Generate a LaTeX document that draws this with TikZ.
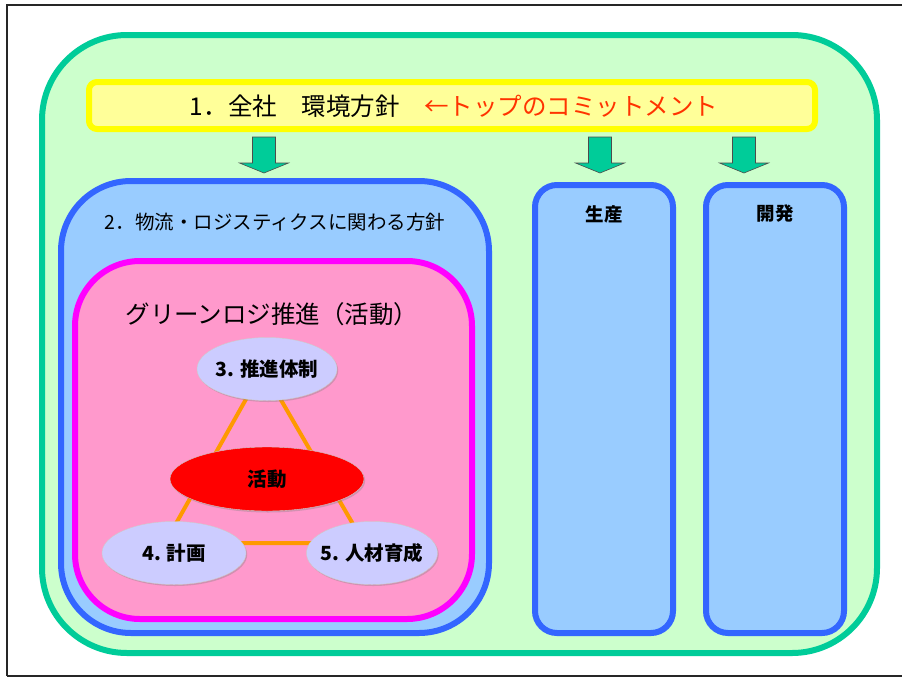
\documentclass[tikz,border=0pt]{standalone}
\usepackage{fontspec}
\setmainfont{Noto Sans CJK JP}
\usetikzlibrary{shapes.geometric,shadows}

\definecolor{ringgreen}{HTML}{00CC99}
\definecolor{palegreen}{HTML}{CCFFCC}
\definecolor{boxyellow}{HTML}{FFFF00}
\definecolor{paleyellow}{HTML}{FFFF99}
\definecolor{boxblue}{HTML}{3366FF}
\definecolor{paleblue}{HTML}{99CCFF}
\definecolor{boxmagenta}{HTML}{FF00FF}
\definecolor{palepink}{HTML}{FF99CC}
\definecolor{lilac}{HTML}{CCCCFF}
\definecolor{actred}{HTML}{FF0000}
\definecolor{tribar}{HTML}{FF9900}
\definecolor{pitchred}{HTML}{FF3300}

\pgfdeclarelayer{bars}
\pgfdeclarelayer{bubbles}
\pgfsetlayers{main,bars,bubbles}

\tikzset{
  company/.style={draw=ringgreen, line width=6pt, fill=palegreen, rounded corners=85pt},
  policybox/.style={draw=boxyellow, line width=6pt, fill=paleyellow, rounded corners=8pt},
  deptbox/.style={draw=boxblue, line width=6pt, fill=paleblue},
  greenbox/.style={draw=boxmagenta, line width=6pt, fill=palepink, rounded corners=65pt},
  bubble/.style={ellipse, fill=lilac, draw=gray!40, line width=0.4pt, minimum height=63pt,
    font=\fontsize{19.5pt}{23pt}\selectfont\bfseries,
    drop shadow={shadow xshift=1.2pt, shadow yshift=-1.5pt, opacity=0.35}},
  bubbletext/.style={font=\fontsize{19.5pt}{23pt}\selectfont\bfseries},
  downarrow/.style={fill=ringgreen, draw=black!70, line width=0.6pt},
  tri/.style={draw=tribar, line width=4pt},
  bigtext/.style={font=\fontsize{24.5pt}{28pt}\selectfont},
  midtext/.style={font=\fontsize{19.5pt}{23pt}\selectfont},
  smalltext/.style={font=\fontsize{18.5pt}{22pt}\selectfont\bfseries}
}

\begin{document}
\begin{tikzpicture}[x=1pt, y=-1pt]
  \useasboundingbox (0,0) rectangle (902,678);
  \draw[line width=2pt, black!85] (7,676) -- (7,5) -- (910,5);
  \draw[line width=2pt, black!85] (7,676) -- (910,676);
  % frame
  \node[company, minimum width=835pt, minimum height=618pt] (whole) at (459.5,344) {};
  \node[policybox, minimum width=726pt, minimum height=47pt] (policy) at (452,105.5) {};
  \node[bigtext] (policytext) at (454,106) {1．全社　環境方針　{\color{pitchred}←トップのコミットメント}};
  % arrows
  \foreach \x in {264,600,744}
    \draw[downarrow] (\x-11.5,137) -- (\x+11.5,137) -- (\x+11.5,163) -- (\x+24.5,163)
      -- (\x,173) -- (\x-24.5,163) -- (\x-11.5,163) -- cycle;
  % departments
  \node[deptbox, rounded corners=70pt, minimum width=428pt, minimum height=452pt] (logi) at (275,407) {};
  \node[deptbox, rounded corners=22pt, minimum width=138pt, minimum height=448pt] (prod) at (604,409) {};
  \node[deptbox, rounded corners=22pt, minimum width=138pt, minimum height=448pt] (dev) at (775,409) {};
  \node[midtext] (logitext) at (275,222) {2．物流・ロジスティクスに関わる方針};
  \node[smalltext] (prodtext) at (604,214) {生産};
  \node[smalltext] (devtext) at (775,214) {開発};
  % green logistics
  \node[greenbox, minimum width=397pt, minimum height=358pt] (green) at (273.5,440) {};
  \node[bigtext] (greentext) at (272,314) {グリーンロジ推進（活動）};
  \begin{pgfonlayer}{bubbles}
    \node[bubble, minimum width=140pt, label={[bubbletext]center:3. 推進体制}] (n3) at (267,369) {};
    \node[bubble, minimum width=144pt, label={[bubbletext]center:4. 計画}] (n4) at (174,553) {};
    \node[bubble, minimum width=131pt, label={[bubbletext]center:5. 人材育成}] (n5) at (372,553) {};
    \node[bubble, fill=actred, minimum width=194pt, minimum height=64pt] (act) at (267,479) {活動};
  \end{pgfonlayer}
  \begin{pgfonlayer}{bars}
    \draw[tri] ([xshift=-4pt]n3.center) -- ([xshift=-9pt, yshift=10pt]n4.center)
      -- ([xshift=-8pt, yshift=10pt]n5.center) -- cycle;
  \end{pgfonlayer}
\end{tikzpicture}
\end{document}
